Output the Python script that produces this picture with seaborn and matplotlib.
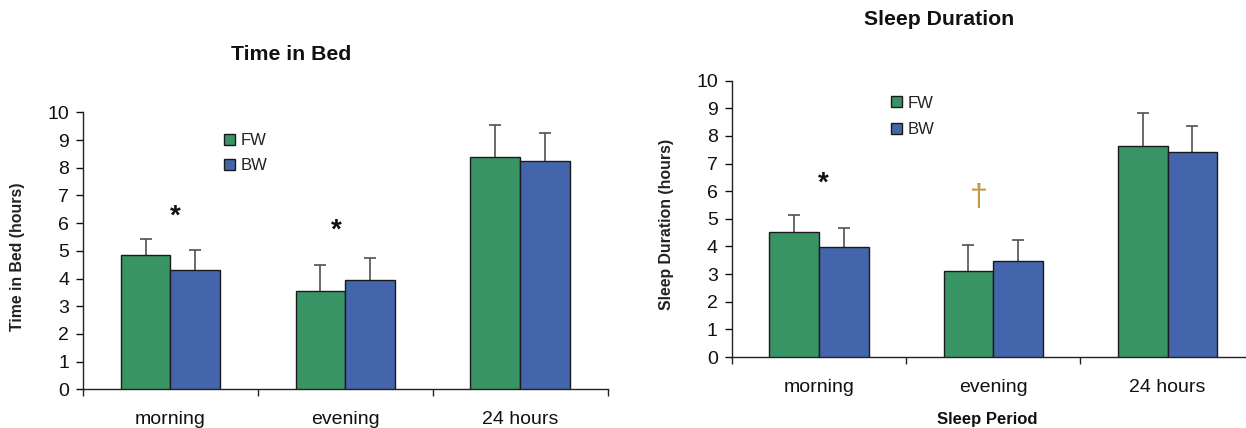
import matplotlib
matplotlib.use("Agg")
import matplotlib.pyplot as plt
from matplotlib.patches import Patch
import seaborn as sns
import pandas as pd

# ---------------- data ----------------
periods = ["morning", "evening", "24 hours"]
groups = ["FW", "BW"]

bed_fw = [4.86, 3.54, 8.38]
bed_bw = [4.31, 3.96, 8.23]
bed_fw_err = [0.58, 0.94, 1.17]
bed_bw_err = [0.73, 0.77, 1.03]

sleep_fw = [4.51, 3.11, 7.62]
sleep_bw = [3.97, 3.46, 7.41]
sleep_fw_err = [0.63, 0.94, 1.22]
sleep_bw_err = [0.71, 0.77, 0.96]

y_ticks = list(range(0, 11))

# ---------------- style ----------------
sns.set_style("white")
plt.rcParams["font.family"] = ["Liberation Sans", "DejaVu Sans"]

GREEN = "#389464"
BLUE = "#4464AC"
W, H = 1246, 428

fig = plt.figure(figsize=(W / 100, H / 100), dpi=100)
ax1 = fig.add_axes([83 / W, 1 - 389.3 / H, 524.7 / W, 277 / H])
ax2 = fig.add_axes([731.7 / W, 1 - 357 / H, 523 / W, 276.3 / H])


def make_df(fw, bw, fw_err, bw_err):
    rows = []
    for i, p in enumerate(periods):
        rows.append({"period": p, "group": "FW", "value": fw[i], "err": fw_err[i]})
        rows.append({"period": p, "group": "BW", "value": bw[i], "err": bw_err[i]})
    return pd.DataFrame(rows)


def draw(ax, df, ylabel, title, title_y, leg_xy, leg_spacing):
    sns.barplot(data=df, x="period", y="value", hue="group", order=periods,
                hue_order=groups, palette=[GREEN, BLUE], saturation=1,
                width=0.57, edgecolor="#1a1a1a", linewidth=1.0,
                errorbar=None, legend=False, ax=ax, zorder=3)
    # upper-only error bars, taken from the data through the bar positions
    for cont, g in zip(ax.containers, groups):
        sub = df[df["group"] == g].set_index("period").loc[periods]
        xs = [b.get_x() + b.get_width() / 2 for b in cont]
        ys = [b.get_height() for b in cont]
        _, caps, _ = ax.errorbar(xs, ys,
                                 yerr=[[0] * len(ys), list(sub["err"])],
                                 fmt="none", ecolor="#505050", elinewidth=1.2,
                                 capsize=4.5, capthick=1.2, zorder=2)
        if len(caps) == 2:
            caps[0].set_visible(False)
    ax.set_xlim(-0.5, 2.5)
    ax.set_ylim(0, 10)
    ax.set_yticks(y_ticks)
    ax.set_yticklabels([str(t) for t in y_ticks])
    ax.set_xticks([0, 1, 2])
    ax.set_xticklabels(periods)
    ax.set_xticks([-0.5, 0.5, 1.5, 2.5], minor=True)
    ax.tick_params(axis="x", which="major", length=0, pad=15.5, labelsize=14,
                   colors="#111111")
    ax.tick_params(axis="x", which="minor", length=5, width=1.0,
                   direction="out", color="#222222", bottom=True)
    ax.tick_params(axis="y", which="major", length=5, width=1.0,
                   direction="out", pad=5, labelsize=14, colors="#111111",
                   left=True)
    for s in ["top", "right"]:
        ax.spines[s].set_visible(False)
    for s in ["left", "bottom"]:
        ax.spines[s].set_color("#222222")
        ax.spines[s].set_linewidth(1.0)
    ax.set_xlabel("")
    ax.set_ylabel(ylabel, fontsize=11.4, fontweight="bold", color="#222222")
    ax.yaxis.set_label_coords(-0.11, 0.48)
    ax.set_title(title, fontsize=15.3, fontweight="bold", x=0.396, y=title_y,
                 va="center", color="#111111")
    handles = [Patch(facecolor=GREEN, edgecolor="#1a1a1a", linewidth=1.0),
               Patch(facecolor=BLUE, edgecolor="#1a1a1a", linewidth=1.0)]
    ax.legend(handles, groups, loc="upper left",
              bbox_to_anchor=(leg_xy[0] / W, 1 - leg_xy[1] / H),
              bbox_transform=fig.transFigure, frameon=False, borderpad=0,
              borderaxespad=0, handlelength=0.66, handleheight=0.66,
              handletextpad=0.35, labelspacing=leg_spacing, fontsize=12,
              labelcolor="#222222")


df_bed = make_df(bed_fw, bed_bw, bed_fw_err, bed_bw_err)
df_sleep = make_df(sleep_fw, sleep_bw, sleep_fw_err, sleep_bw_err)

draw(ax1, df_bed, "Time in Bed (hours)", "Time in Bed", 1.177, (224, 133), 0.62)
draw(ax2, df_sleep, "Sleep Duration (hours)", "Sleep Duration", 1.192,
     (891, 95.5), 0.72)

# significance markers
ax1.text(0.03, 5.98, "*", fontsize=20, fontweight="bold", ha="center",
         va="baseline", color="#111111")
ax1.text(0.95, 5.48, "*", fontsize=20, fontweight="bold", ha="center",
         va="baseline", color="#111111")
ax2.text(0.024, 6.02, "*", fontsize=20, fontweight="bold", ha="center",
         va="baseline", color="#111111")
ax2.text(0.917, 5.75, "\u2020", fontsize=23, ha="center", va="center",
         color="#c8964b")

ax2.set_xlabel("Sleep Period", fontsize=12, fontweight="bold", color="#111111")
ax2.xaxis.set_label_coords(0.489, -0.2)

fig.savefig("out.png", dpi=100)
